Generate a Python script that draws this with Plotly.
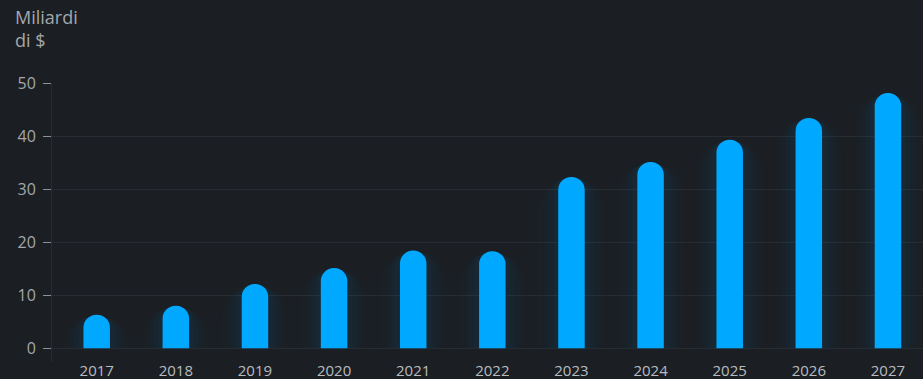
import plotly.graph_objects as go

years = [2017, 2018, 2019, 2020, 2021, 2022, 2023, 2024, 2025, 2026, 2027]
year_labels = [str(y) for y in years]
values = [6.3, 8.0, 12.1, 15.1, 18.4, 18.3, 32.3, 35.1, 39.3, 43.4, 48.1]
y_ticks = [0, 10, 20, 30, 40, 50]
title_text = "Miliardi<br>di $"

BG = "#1b1f23"
BAR = "#00a8ff"
GRID = "#262c32"
FONT = "Open Sans"

fig = go.Figure()

# soft glow behind bars
for w, a in [(0.85, 0.012), (0.70, 0.018), (0.58, 0.024), (0.46, 0.032)]:
    fig.add_trace(go.Bar(
        x=years, y=values, width=w,
        marker=dict(color=f"rgba(0,150,255,{a})", cornerradius="50%", line=dict(width=0)),
        hoverinfo="skip",
    ))

fig.add_trace(go.Bar(
    x=years, y=values, width=0.335,
    marker=dict(color=BAR, cornerradius="50%", line=dict(width=0)),
))

fig.update_layout(
    width=923, height=379,
    margin=dict(l=52, r=0, t=83, b=17, autoexpand=False),
    paper_bgcolor=BG, plot_bgcolor=BG,
    barmode="overlay", showlegend=False,
    font=dict(family=FONT, color="#a3a7ab"),
    annotations=[dict(
        text=title_text, xref="paper", yref="paper",
        x=(13 - 52) / 871, y=1 + (83 - 3) / 279,
        xanchor="left", yanchor="top", align="left", showarrow=False,
        font=dict(size=18, color="#a3a7ab", family=FONT),
    )],
)

fig.update_xaxes(
    type="linear", range=[2016.435, 2027.443],
    tickvals=years, ticktext=year_labels,
    showgrid=False, zeroline=False, showline=False, ticks="",
    tickfont=dict(size=15, color="#b8bcc0", family=FONT),
    ticklabelstandoff=-2,
    automargin=False,
)
fig.update_yaxes(
    range=[-2.6, 50], tickvals=y_ticks,
    ticks="outside", ticklen=8, tickcolor="#8c9196", tickwidth=1,
    showgrid=True, gridcolor=GRID, gridwidth=1,
    showline=True, linecolor=GRID, linewidth=1,
    zeroline=False,
    tickfont=dict(size=16, color="#a3a7ab", family=FONT),
    ticklabelstandoff=4,
    automargin=False,
)

fig.write_html("out.html")
